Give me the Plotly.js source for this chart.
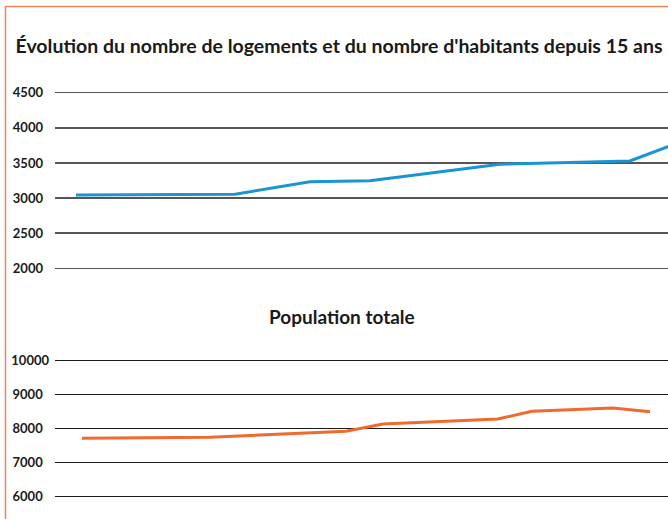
<!DOCTYPE html>
<html>
<head>
<meta charset="utf-8">
<script src="https://cdn.plot.ly/plotly-3.0.1.min.js"></script>
<style>
html,body{margin:0;padding:0;background:#fff;}
#chart{width:668px;height:519px;}
</style>
</head>
<body>
<div id="chart"></div>
<script>
// Data (x = years since start of the 15-year period)
const anneesLogements = [-0.16, 4.04, 6.02, 7.60, 11.04, 14.47, 16.0];
const logements = [3044, 3054, 3233, 3247, 3483, 3529, 3840];

const anneesPopulation = [0, 3.38, 6.97, 7.95, 10.98, 11.88, 14.02, 15];
const population = [7706, 7735, 7912, 8126, 8274, 8500, 8597, 8488];

const ticksLogements = [2000, 2500, 3000, 3500, 4000, 4500];
const ticksPopulation = [6000, 7000, 8000, 9000, 10000];
const labelsPopulation = ticksPopulation.map(v => v >= 10000 ? String(v) : String(v) + '\u00a0\u00a0');

const titre = "Évolution du nombre de logements et du nombre d'habitants depuis 15 ans";
const sousTitre = "Population totale";

const FONT = 'Lato, "Open Sans", sans-serif';

const traces = [
  {x: anneesLogements, y: logements, type: 'scatter', mode: 'lines',
   line: {color: '#1a95d1', width: 3}, xaxis: 'x', yaxis: 'y', hoverinfo: 'skip'},
  {x: anneesPopulation, y: population, type: 'scatter', mode: 'lines',
   line: {color: '#f0692f', width: 3}, xaxis: 'x2', yaxis: 'y2', hoverinfo: 'skip'}
];

const xr = [-0.713, 15.474];
const layout = {
  width: 668, height: 519,
  margin: {l: 55, r: 0, t: 0, b: 0},
  paper_bgcolor: '#ffffff', plot_bgcolor: '#ffffff',
  showlegend: false,
  font: {family: FONT, color: '#1a1a1a'},
  title: {text: '<b>' + titre + '</b>', font: {family: FONT, size: 19.5, color: '#1a1a1a'},
          xref: 'container', x: 0.5075, xanchor: 'center', yref: 'container', y: 0.911, yanchor: 'middle'},
  xaxis: {domain: [0, 1], range: xr, visible: false, fixedrange: true, anchor: 'y'},
  xaxis2: {domain: [0, 1], range: xr, visible: false, fixedrange: true, anchor: 'y2'},
  yaxis: {domain: [0.4763, 0.8281], range: [1950, 4550], tickvals: ticksLogements,
          showgrid: true, gridcolor: '#555555', gridwidth: 1.5, zeroline: false, showline: false,
          ticks: '', ticklabelstandoff: 11, anchor: 'x',
          tickfont: {family: FONT, size: 13, color: '#1a1a1a', weight: 'bold'}},
  yaxis2: {domain: [0.0372, 0.3123], range: [5900, 10100], tickvals: ticksPopulation, ticktext: labelsPopulation,
          showgrid: true, gridcolor: '#1a1a1a', gridwidth: 1.5, zeroline: false, showline: false,
          ticks: '', ticklabelstandoff: 5, anchor: 'x2',
          tickfont: {family: FONT, size: 13, color: '#1a1a1a', weight: 'bold'}},
  annotations: [
    {text: '<b>' + sousTitre + '</b>', xref: 'paper', yref: 'paper', x: (342 - 55) / 613, y: 1 - 316.5 / 519,
     xanchor: 'center', yanchor: 'middle', showarrow: false, font: {family: FONT, size: 19, color: '#1a1a1a'}}
  ],
  shapes: [
    {type: 'rect', xref: 'paper', yref: 'paper', x0: (5.5 - 55) / 613, x1: 1.2, y0: -0.2, y1: 1 - 6.5 / 519,
     line: {color: '#f4845a', width: 1.5}, fillcolor: 'rgba(0,0,0,0)', layer: 'above'}
  ]
};

Plotly.newPlot('chart', traces, layout, {staticPlot: true, displayModeBar: false});
</script>
</body>
</html>
